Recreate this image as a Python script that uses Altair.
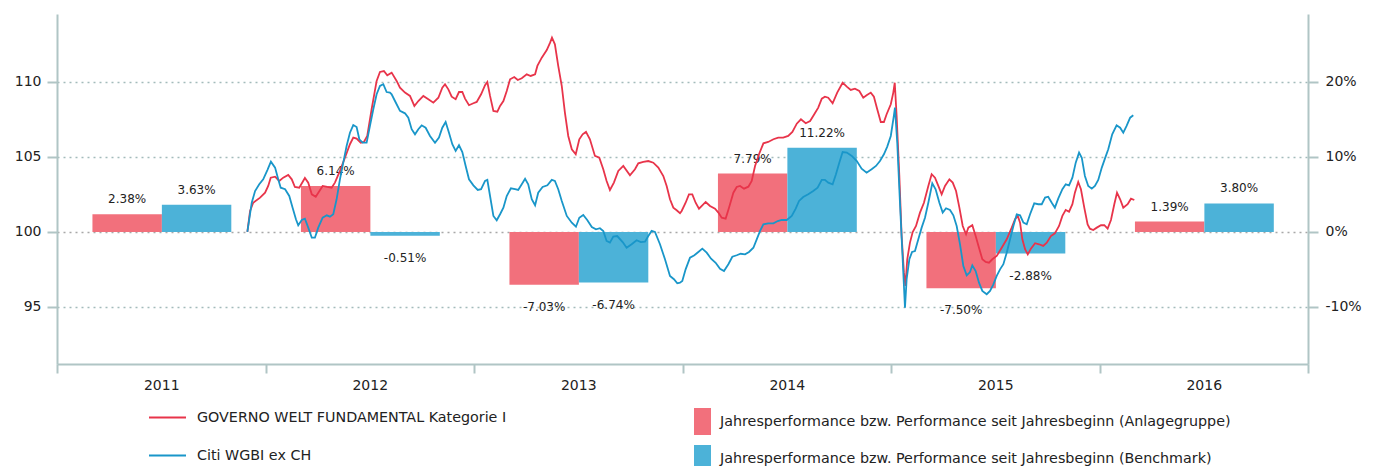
import altair as alt
import pandas as pd

# ---------------- data ----------------
years = [2011, 2012, 2013, 2014, 2015, 2016]
fund_perf = [2.38, 6.14, -7.03, 7.79, -7.50, 1.39]
bench_perf = [3.63, -0.51, -6.74, 11.22, -2.88, 3.80]

fund_name = "GOVERNO WELT FUNDAMENTAL Kategorie I"
bench_name = "Citi WGBI ex CH"
bar_fund_name = "Jahresperformance bzw. Performance seit Jahresbeginn (Anlagegruppe)"
bar_bench_name = "Jahresperformance bzw. Performance seit Jahresbeginn (Benchmark)"

fund_t = [
    2011.913, 2011.926, 2011.941, 2011.974, 2011.998, 2012.013, 2012.025, 2012.046, 2012.066, 2012.085,
    2012.109, 2012.126, 2012.141, 2012.162, 2012.189, 2012.205, 2012.222, 2012.241, 2012.274, 2012.296,
    2012.317, 2012.333, 2012.357, 2012.381, 2012.405, 2012.421, 2012.437, 2012.457, 2012.472, 2012.488,
    2012.509, 2012.533, 2012.549, 2012.568, 2012.584, 2012.605, 2012.629, 2012.645, 2012.669, 2012.693,
    2012.714, 2012.733, 2012.757, 2012.781, 2012.805, 2012.829, 2012.848, 2012.861, 2012.877, 2012.893,
    2012.912, 2012.928, 2012.944, 2012.957, 2012.976, 2012.997, 2013.013, 2013.034, 2013.053, 2013.064,
    2013.077, 2013.093, 2013.112, 2013.125, 2013.141, 2013.157, 2013.173, 2013.193, 2013.210, 2013.229,
    2013.253, 2013.272, 2013.293, 2013.304, 2013.325, 2013.349, 2013.365, 2013.374, 2013.388, 2013.404,
    2013.421, 2013.436, 2013.452, 2013.469, 2013.488, 2013.505, 2013.521, 2013.537, 2013.556, 2013.580,
    2013.601, 2013.620, 2013.636, 2013.652, 2013.671, 2013.692, 2013.716, 2013.748, 2013.772, 2013.788,
    2013.812, 2013.836, 2013.860, 2013.884, 2013.908, 2013.924, 2013.940, 2013.956, 2013.972, 2013.988,
    2013.996, 2014.015, 2014.031, 2014.047, 2014.063, 2014.079, 2014.095, 2014.111, 2014.132, 2014.156,
    2014.172, 2014.188, 2014.207, 2014.223, 2014.244, 2014.260, 2014.276, 2014.295, 2014.316, 2014.332,
    2014.348, 2014.367, 2014.388, 2014.411, 2014.436, 2014.459, 2014.483, 2014.507, 2014.527, 2014.548,
    2014.568, 2014.591, 2014.612, 2014.632, 2014.651, 2014.668, 2014.683, 2014.699, 2014.720, 2014.742,
    2014.768, 2014.788, 2014.807, 2014.827, 2014.848, 2014.867, 2014.883, 2014.903, 2014.918, 2014.934,
    2014.951, 2014.966, 2014.979, 2014.999, 2015.011, 2015.018, 2015.027, 2015.040, 2015.051, 2015.062,
    2015.069, 2015.078, 2015.091, 2015.104, 2015.120, 2015.139, 2015.158, 2015.179, 2015.195, 2015.211,
    2015.227, 2015.243, 2015.259, 2015.280, 2015.296, 2015.312, 2015.328, 2015.344, 2015.360, 2015.371,
    2015.390, 2015.406, 2015.422, 2015.438, 2015.454, 2015.470, 2015.486, 2015.507, 2015.531, 2015.555,
    2015.579, 2015.595, 2015.608, 2015.619, 2015.630, 2015.643, 2015.656, 2015.671, 2015.691, 2015.710,
    2015.730, 2015.747, 2015.767, 2015.786, 2015.806, 2015.822, 2015.838, 2015.854, 2015.870, 2015.882,
    2015.898, 2015.911, 2015.927, 2015.943, 2015.954, 2015.970, 2015.987, 2016.007, 2016.023, 2016.039,
    2016.055, 2016.071, 2016.084, 2016.099, 2016.114, 2016.135, 2016.151, 2016.167,
]
fund_v = [
    100.0, 101.4, 101.95, 102.29, 102.62, 103.07, 103.62, 103.69, 103.4, 103.62,
    103.8, 103.51, 103.0, 102.95, 103.6, 103.29, 102.51, 102.35, 103.07, 103.0,
    102.95, 103.29, 104.07, 104.95, 105.85, 106.29, 106.22, 105.95, 106.0, 106.4,
    108.18, 110.07, 110.67, 110.73, 110.45, 110.62, 110.07, 109.62, 109.29, 109.07,
    108.4, 108.73, 109.07, 108.85, 108.62, 108.95, 109.62, 109.85, 109.51, 109.02,
    108.85, 109.33, 109.33, 108.89, 108.45, 108.58, 108.67, 109.18, 109.78, 110.0,
    109.07, 108.07, 108.02, 108.4, 108.73, 109.4, 110.18, 110.33, 110.13, 110.25,
    110.51, 110.4, 110.51, 111.07, 111.62, 112.13, 112.62, 112.95, 112.51, 111.07,
    109.73, 107.95, 106.4, 105.51, 105.18, 106.18, 106.51, 106.67, 106.18, 105.07,
    104.95, 104.18, 103.4, 102.8, 103.29, 104.07, 104.4, 103.78, 104.18, 104.58,
    104.67, 104.73, 104.62, 104.29, 103.73, 103.07, 102.18, 101.62, 101.45, 101.25,
    101.4, 101.95, 102.51, 102.51, 101.95, 101.55, 101.78, 102.0, 101.73, 101.55,
    101.29, 100.95, 100.89, 101.62, 102.62, 103.0, 103.07, 102.89, 103.02, 103.4,
    104.4, 105.18, 105.91, 106.0, 106.18, 106.29, 106.29, 106.4, 106.67, 107.22,
    107.51, 107.25, 107.4, 107.85, 108.29, 108.89, 109.02, 108.95, 108.58, 109.29,
    109.95, 109.69, 109.47, 109.55, 109.4, 108.95, 109.11, 109.29, 109.02, 108.18,
    107.33, 107.33, 107.85, 108.51, 109.29, 109.95, 107.73, 103.73, 99.73, 97.29,
    96.4, 98.18, 99.29, 100.0, 100.4, 101.29, 101.95, 103.07, 103.85, 103.62,
    103.07, 102.51, 103.07, 103.51, 103.29, 102.73, 101.62, 100.4, 99.85, 100.29,
    100.45, 99.73, 98.95, 98.18, 98.0, 97.95, 98.18, 98.4, 98.95, 99.51,
    100.29, 100.85, 101.07, 100.62, 99.51, 98.85, 98.51, 98.89, 99.25, 99.18,
    99.07, 99.29, 99.73, 99.91, 100.4, 101.07, 101.47, 101.35, 101.85, 102.62,
    103.33, 102.85, 101.62, 100.51, 100.22, 100.13, 100.29, 100.45, 100.45, 100.22,
    100.8, 101.85, 102.62, 102.18, 101.62, 101.85, 102.22, 102.13,
]

bench_t = [
    2011.913, 2011.934, 2011.950, 2011.970, 2011.989, 2012.009, 2012.026, 2012.046, 2012.061, 2012.073,
    2012.094, 2012.114, 2012.130, 2012.146, 2012.157, 2012.174, 2012.189, 2012.205, 2012.222, 2012.237,
    2012.253, 2012.274, 2012.294, 2012.309, 2012.325, 2012.341, 2012.357, 2012.373, 2012.389, 2012.405,
    2012.421, 2012.437, 2012.450, 2012.466, 2012.485, 2012.501, 2012.517, 2012.533, 2012.549, 2012.565,
    2012.581, 2012.597, 2012.605, 2012.621, 2012.645, 2012.669, 2012.685, 2012.701, 2012.717, 2012.733,
    2012.749, 2012.768, 2012.789, 2012.813, 2012.832, 2012.848, 2012.864, 2012.880, 2012.896, 2012.912,
    2012.928, 2012.944, 2012.960, 2012.976, 2012.997, 2013.018, 2013.034, 2013.053, 2013.064, 2013.077,
    2013.093, 2013.109, 2013.125, 2013.141, 2013.157, 2013.177, 2013.197, 2013.212, 2013.229, 2013.245,
    2013.260, 2013.277, 2013.293, 2013.308, 2013.329, 2013.352, 2013.373, 2013.388, 2013.404, 2013.421,
    2013.445, 2013.469, 2013.489, 2013.505, 2013.524, 2013.543, 2013.565, 2013.585, 2013.604, 2013.620,
    2013.636, 2013.652, 2013.668, 2013.687, 2013.713, 2013.732, 2013.756, 2013.780, 2013.800, 2013.820,
    2013.836, 2013.852, 2013.868, 2013.892, 2013.916, 2013.940, 2013.959, 2013.975, 2013.988, 2013.999,
    2014.015, 2014.036, 2014.057, 2014.076, 2014.095, 2014.116, 2014.137, 2014.159, 2014.180, 2014.199,
    2014.220, 2014.239, 2014.260, 2014.279, 2014.300, 2014.319, 2014.340, 2014.356, 2014.372, 2014.388,
    2014.411, 2014.436, 2014.457, 2014.476, 2014.500, 2014.524, 2014.543, 2014.559, 2014.579, 2014.603,
    2014.627, 2014.648, 2014.668, 2014.683, 2014.699, 2014.720, 2014.736, 2014.752, 2014.768, 2014.788,
    2014.812, 2014.836, 2014.859, 2014.883, 2014.907, 2014.928, 2014.947, 2014.966, 2014.982, 2014.999,
    2015.014, 2015.019, 2015.030, 2015.043, 2015.056, 2015.067, 2015.075, 2015.088, 2015.101, 2015.115,
    2015.131, 2015.147, 2015.163, 2015.179, 2015.198, 2015.214, 2015.232, 2015.248, 2015.264, 2015.283,
    2015.299, 2015.315, 2015.331, 2015.347, 2015.363, 2015.379, 2015.390, 2015.406, 2015.422, 2015.438,
    2015.459, 2015.475, 2015.491, 2015.507, 2015.523, 2015.539, 2015.555, 2015.571, 2015.587, 2015.603,
    2015.619, 2015.635, 2015.651, 2015.667, 2015.687, 2015.706, 2015.723, 2015.739, 2015.754, 2015.771,
    2015.786, 2015.802, 2015.822, 2015.838, 2015.854, 2015.870, 2015.886, 2015.902, 2015.915, 2015.930,
    2015.946, 2015.963, 2015.978, 2015.994, 2016.011, 2016.026, 2016.042, 2016.061, 2016.082, 2016.099,
    2016.114, 2016.130, 2016.147, 2016.162,
]
bench_v = [
    100.0, 101.95, 102.73, 103.18, 103.51, 104.13, 104.69, 104.29, 103.51, 102.95,
    102.85, 102.4, 101.62, 100.85, 100.45, 100.8, 100.89, 100.29, 99.62, 99.62,
    100.29, 100.95, 101.11, 101.02, 101.18, 102.18, 103.51, 104.62, 105.73, 106.62,
    107.13, 107.0, 106.18, 105.95, 105.95, 107.07, 108.18, 109.18, 109.73, 109.85,
    109.33, 109.29, 109.18, 108.73, 108.07, 107.91, 107.62, 106.85, 106.51, 106.85,
    107.11, 106.95, 106.4, 105.95, 106.29, 106.95, 107.33, 106.62, 105.85, 105.4,
    105.78, 105.33, 104.4, 103.51, 103.11, 102.8, 102.85, 103.4, 103.47, 102.4,
    101.07, 100.78, 101.18, 101.62, 102.4, 102.91, 102.85, 102.8, 103.18, 103.55,
    103.18, 102.18, 101.78, 102.62, 103.0, 103.11, 103.47, 103.4, 102.85, 102.07,
    101.07, 100.62, 100.35, 100.95, 101.13, 100.8, 100.33, 100.18, 100.25, 100.07,
    99.4, 99.29, 99.69, 99.73, 99.33, 98.95, 99.18, 99.45, 99.33, 99.35,
    99.73, 100.07, 100.0, 99.18, 98.18, 97.07, 96.85, 96.58, 96.62, 96.73,
    97.51, 98.29, 98.45, 98.67, 98.89, 98.62, 98.22, 97.95, 97.55, 97.4,
    97.85, 98.35, 98.45, 98.55, 98.51, 98.67, 98.95, 99.51, 100.07, 100.51,
    100.58, 100.58, 100.73, 100.8, 100.8, 101.07, 101.55, 102.07, 102.33, 102.51,
    102.73, 102.95, 103.47, 103.47, 103.29, 103.18, 103.85, 104.62, 105.33, 105.29,
    105.07, 104.73, 104.22, 103.95, 104.18, 104.4, 104.73, 105.18, 105.69, 106.4,
    107.78, 108.29, 105.95, 101.95, 98.18, 94.95, 96.85, 98.18, 98.67, 98.73,
    99.51, 100.29, 100.95, 101.95, 103.25, 102.85, 101.95, 101.29, 101.58, 101.47,
    101.11, 100.4, 99.18, 97.73, 97.11, 97.33, 97.78, 97.4, 96.62, 96.07,
    95.85, 96.07, 96.51, 97.07, 97.51, 97.85, 98.62, 99.51, 100.4, 101.18,
    101.11, 100.62, 100.51, 101.18, 101.91, 101.85, 101.85, 102.29, 102.35, 101.95,
    101.62, 102.22, 102.85, 103.18, 103.11, 103.62, 104.62, 105.29, 104.95, 103.73,
    103.07, 102.89, 103.07, 103.47, 104.29, 104.89, 105.51, 106.51, 107.11, 106.95,
    106.62, 107.07, 107.62, 107.78,
]

left_ticks = [95, 100, 105, 110]
right_ticks = [-10, 0, 10, 20]
x_ticks = [2011, 2011.5, 2012, 2012.5, 2013, 2013.5, 2014, 2014.5,
           2015, 2015.5, 2016, 2016.5, 2017]

# ---------------- styling ----------------
RED_LINE = "#e8344a"
BLUE_LINE = "#1996c9"
RED_BAR = "#f2707c"
BLUE_BAR = "#4cb2d8"
AXIS_COL = "#b0c5c5"
GRID_COL = "#a3bbbb"
TXT = "#222222"
FONT = "DejaVu Sans"

lines_df = pd.concat([
    pd.DataFrame({"t": fund_t, "v": fund_v, "series": fund_name}),
    pd.DataFrame({"t": bench_t, "v": bench_v, "series": bench_name}),
], ignore_index=True)

bars_df = pd.DataFrame({
    "year": years + years,
    "perf": fund_perf + bench_perf,
    "series": [bar_fund_name] * len(years) + [bar_bench_name] * len(years),
    "slot": [0] * len(years) + [1] * len(years),
})
bars_df["label"] = [f"{p:.2f}%" for p in bars_df["perf"]]

x_scale = alt.Scale(domain=[2011, 2017], nice=False, zero=False)
y_left_scale = alt.Scale(domain=[91.2, 114.53], nice=False, zero=False)
y_right_scale = alt.Scale(domain=[-17.6, 29.06], nice=False, zero=False)

x_axis = alt.Axis(
    values=x_ticks, title=None, grid=False,
    domainColor=AXIS_COL, domainWidth=2,
    tickColor=AXIS_COL, tickWidth=2, tickSize=9,
    tickOpacity={"condition": {"test": "datum.value % 1 == 0", "value": 1}, "value": 0},
    labelExpr="datum.value % 1 == 0 ? '' : '' + floor(datum.value)",
    labelFontSize=14, labelColor=TXT, labelPadding=5,
    labelOverlap=False, labelFlush=False,
)

y_left_axis = alt.Axis(
    orient="left", values=left_ticks, title=None, format="d",
    domainColor=AXIS_COL, domainWidth=2,
    tickColor=AXIS_COL, tickWidth=2, tickSize=10,
    labelFontSize=14, labelColor=TXT, labelPadding=6,
    grid=True, gridDash=[2, 4], gridWidth=1.5,
    gridColor={"condition": {"test": "datum.value == 100", "value": "#a8a8a8"}, "value": GRID_COL},
)

y_right_axis = alt.Axis(
    orient="right", values=right_ticks, title=None,
    labelExpr="datum.value + '%'",
    domainColor=AXIS_COL, domainWidth=2,
    tickColor=AXIS_COL, tickWidth=2, tickSize=10,
    labelFontSize=14, labelColor=TXT, labelPadding=7,
    grid=False,
)

bar_base = alt.Chart(bars_df).transform_calculate(
    x0="datum.year + (datum.slot == 0 ? 0.17 : 0.503)",
).transform_calculate(
    x1="datum.x0 + 0.333",
    mid="datum.x0 + 0.1665",
)

bars = bar_base.mark_bar(opacity=1).encode(
    x=alt.X("x0:Q", scale=x_scale, axis=x_axis),
    x2="x1:Q",
    y=alt.Y("perf:Q", scale=y_right_scale, axis=y_right_axis),
    y2=alt.datum(0),
    fill=alt.Fill(
        "series:N",
        scale=alt.Scale(domain=[bar_fund_name, bar_bench_name], range=[RED_BAR, BLUE_BAR]),
        legend=alt.Legend(
            orient="none", legendX=632, legendY=394, title=None,
            symbolType="M-0.63,-1H0.63V1H-0.63Z", symbolSize=729,
            symbolStrokeWidth=0, symbolOpacity=1,
            labelFontSize=14.3, labelColor=TXT, labelOffset=4,
            rowPadding=10, labelLimit=900,
        ),
    ),
)

txt_pos = bar_base.transform_filter("datum.perf >= 0").mark_text(
    fontSize=12, color=TXT, baseline="alphabetic", dy=-11
).encode(
    x=alt.X("mid:Q", scale=x_scale, axis=x_axis),
    y=alt.Y("perf:Q", scale=y_right_scale, axis=y_right_axis),
    text="label:N",
)

txt_neg = bar_base.transform_filter("datum.perf < 0").mark_text(
    fontSize=12, color=TXT, baseline="alphabetic", dy=26
).encode(
    x=alt.X("mid:Q", scale=x_scale, axis=x_axis),
    y=alt.Y("perf:Q", scale=y_right_scale, axis=y_right_axis),
    text="label:N",
)

lines = alt.Chart(lines_df).mark_line(strokeWidth=1.8).encode(
    x=alt.X("t:Q", scale=x_scale, axis=x_axis),
    y=alt.Y("v:Q", scale=y_left_scale, axis=y_left_axis),
    stroke=alt.Stroke(
        "series:N",
        scale=alt.Scale(domain=[fund_name, bench_name], range=[RED_LINE, BLUE_LINE]),
        legend=alt.Legend(
            orient="none", legendX=91, legendY=384, title=None,
            symbolType="stroke", symbolSize=1369, symbolStrokeWidth=2,
            labelFontSize=14.3, labelColor=TXT, labelOffset=10,
            rowPadding=11, labelLimit=900,
        ),
    ),
)

right_layer = alt.layer(bars, txt_pos, txt_neg)

chart = alt.layer(right_layer, lines).resolve_scale(
    y="independent"
).properties(
    width=1251, height=350,
    padding={"left": 6, "top": 6, "right": 5, "bottom": 5},
).configure(
    font=FONT,
).configure_view(stroke=None)

chart.save("out.html", embed_options={"renderer": "svg", "actions": False})
